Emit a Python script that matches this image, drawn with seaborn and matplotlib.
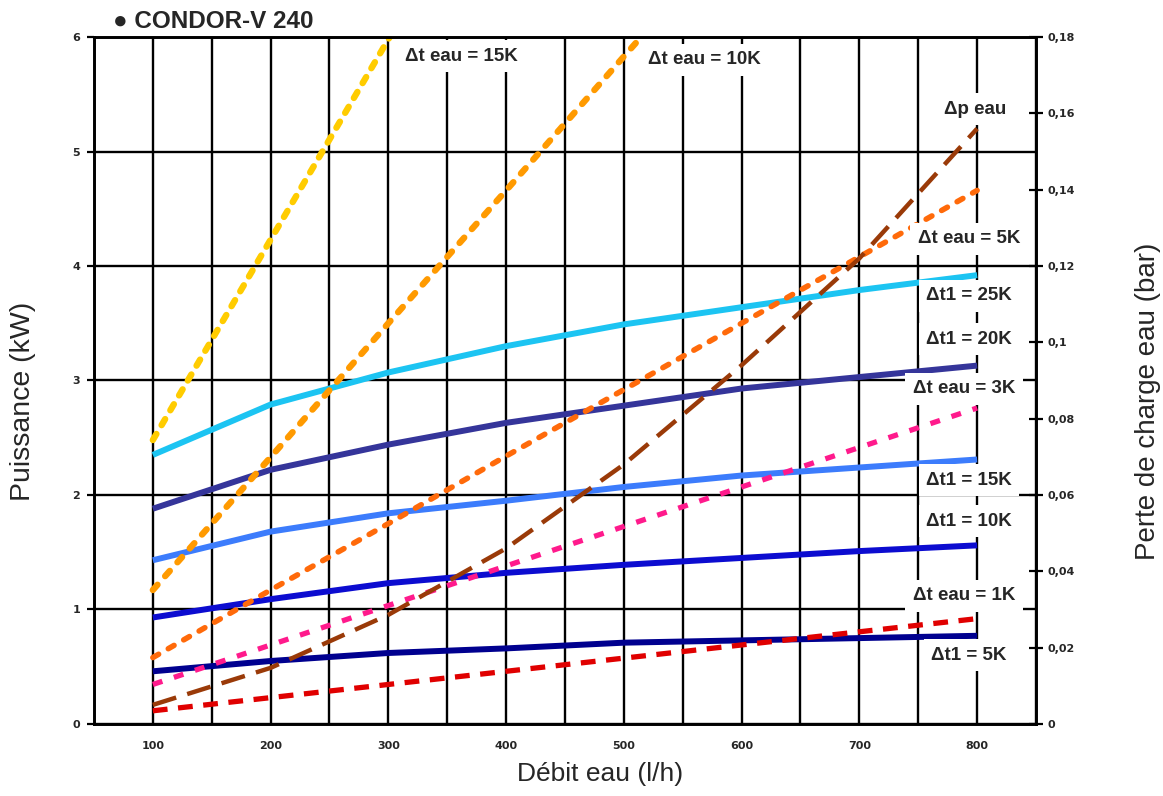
import matplotlib
matplotlib.use("Agg")
import matplotlib.pyplot as plt
from matplotlib.ticker import MultipleLocator, FixedLocator, FuncFormatter
import seaborn as sns

sns.set_style("white")
plt.rcParams["font.family"] = ["Liberation Sans", "DejaVu Sans"]

# Water flow (l/h)
flow = [100, 200, 300, 400, 500, 600, 700, 800]

# Heating power (kW) for each Δt1
dt1_25 = [2.35, 2.79, 3.07, 3.30, 3.49, 3.64, 3.79, 3.92]
dt1_20 = [1.88, 2.22, 2.44, 2.63, 2.78, 2.93, 3.03, 3.13]
dt1_15 = [1.43, 1.68, 1.84, 1.95, 2.07, 2.17, 2.24, 2.31]
dt1_10 = [0.93, 1.09, 1.23, 1.32, 1.39, 1.45, 1.51, 1.56]
dt1_5 = [0.46, 0.55, 0.62, 0.66, 0.71, 0.73, 0.75, 0.77]

# Power (kW) at constant water temperature drop
dte_1 = [0.115, 0.23, 0.345, 0.46, 0.575, 0.69, 0.805, 0.92]
dte_3 = [0.345, 0.69, 1.035, 1.38, 1.725, 2.07, 2.415, 2.76]
dte_5 = [0.58, 1.17, 1.75, 2.34, 2.92, 3.50, 4.08, 4.66]
dte_10 = [1.17, 2.33, 3.50, 4.66, 5.83, 6.99]
dte_15 = [2.48, 4.23, 5.98, 7.73]

# Water pressure drop (bar)
dp_eau = [0.005, 0.0147, 0.0286, 0.046, 0.068, 0.094, 0.122, 0.156]

fig = plt.figure(figsize=(11.63, 7.96), dpi=100)
ax = fig.add_axes([0.0808, 0.0905, 0.81, 0.863])
ax2 = ax.twinx()

solid = [
    (dt1_25, "#1CC4F2"),
    (dt1_20, "#35359A"),
    (dt1_15, "#3C7CFC"),
    (dt1_10, "#0C0CD0"),
    (dt1_5, "#00008F"),
]
for vals, col in solid:
    sns.lineplot(x=flow[:len(vals)], y=vals, ax=ax, color=col, lw=4.3,
                 estimator=None, sort=False, solid_capstyle="butt")

dashed = [
    (dte_1, "#E00000", (2.8, 2.0), 3.8, "butt"),
    (dte_3, "#FF1A8C", (1.9, 2.3), 3.8, "butt"),
    (dte_5, "#FF6A0A", (1.2, 2.0), 4.0, "round"),
    (dte_10, "#FF9A00", (1.1, 1.8), 4.6, "round"),
    (dte_15, "#FFCC00", (1.1, 1.6), 4.6, "round"),
]
for vals, col, dash, lw, cap in dashed:
    sns.lineplot(x=flow[:len(vals)], y=vals, ax=ax, color=col, lw=lw,
                 estimator=None, sort=False, linestyle=(0, dash),
                 dash_capstyle=cap)

sns.lineplot(x=flow, y=dp_eau, ax=ax2, color="#9A3A08", lw=3.2,
             estimator=None, sort=False, linestyle=(0, (5.5, 2.6)),
             dash_capstyle="butt")

ax.set_xlim(50, 850)
ax.set_ylim(0, 6)
ax2.set_ylim(0, 0.18)

ax.xaxis.set_major_locator(MultipleLocator(100))
ax.xaxis.set_minor_locator(FixedLocator([50, 150, 250, 350, 450, 550, 650, 750, 850]))
ax.yaxis.set_major_locator(MultipleLocator(1))
ax2.yaxis.set_major_locator(MultipleLocator(0.02))
ax2.yaxis.set_major_formatter(FuncFormatter(
    lambda v, p: ("0" if abs(v) < 1e-9 else f"{v:.2f}".rstrip("0").replace(".", ","))))

ax.grid(True, which="both", axis="x", color="black", lw=1.7)
ax.grid(True, which="major", axis="y", color="black", lw=1.7)
ax.set_axisbelow("line")

for a in (ax, ax2):
    for s in a.spines.values():
        s.set_color("black")
        s.set_linewidth(1.9)

ax.tick_params(axis="x", which="both", direction="out", length=6, width=1.6,
               color="black", pad=6)
ax.tick_params(axis="y", direction="out", length=5, width=1.6, color="black", pad=5)
ax2.tick_params(axis="y", direction="inout", length=10, width=1.6, color="black", pad=3)
for lab in ax.get_xticklabels() + ax.get_yticklabels() + ax2.get_yticklabels():
    lab.set_fontsize(8)
    lab.set_fontweight("bold")
    lab.set_family("DejaVu Sans")

ax.set_xlabel("Débit eau (l/h)", fontsize=19)
ax.xaxis.set_label_coords(0.537, -0.056)
ax.set_ylabel("Puissance (kW)", fontsize=20.5)
ax.yaxis.set_label_coords(-0.062, 0.469)
ax2.set_ylabel("Perte de charge eau (bar)", fontsize=20)
ax2.yaxis.set_label_coords(1.105, 0.47)

fig.text(113 / 1163, 1 - 21 / 796, "● CONDOR-V 240", fontsize=17.5,
         fontweight="bold", va="center", ha="left")

labels = [
    ("Δt eau = 15K", 362, 5.83),
    ("Δt eau = 10K", 568, 5.80),
    ("Δp eau", 798, 5.37),
    ("Δt eau = 5K", 793, 4.24),
    ("Δt1 = 25K", 793, 3.74),
    ("Δt1 = 20K", 793, 3.36),
    ("Δt eau = 3K", 789, 2.93),
    ("Δt1 = 15K", 793, 2.13),
    ("Δt1 = 10K", 793, 1.77),
    ("Δt eau = 1K", 789, 1.12),
    ("Δt1 = 5K", 793, 0.60),
]
for txt, x, y in labels:
    ax2.text(x, y, txt, transform=ax.transData, ha="center", va="center",
             fontsize=13.5, fontweight="bold", zorder=10,
             bbox=dict(boxstyle="square,pad=0.4", fc="white", ec="none"))

fig.savefig("out.png", dpi=100)
